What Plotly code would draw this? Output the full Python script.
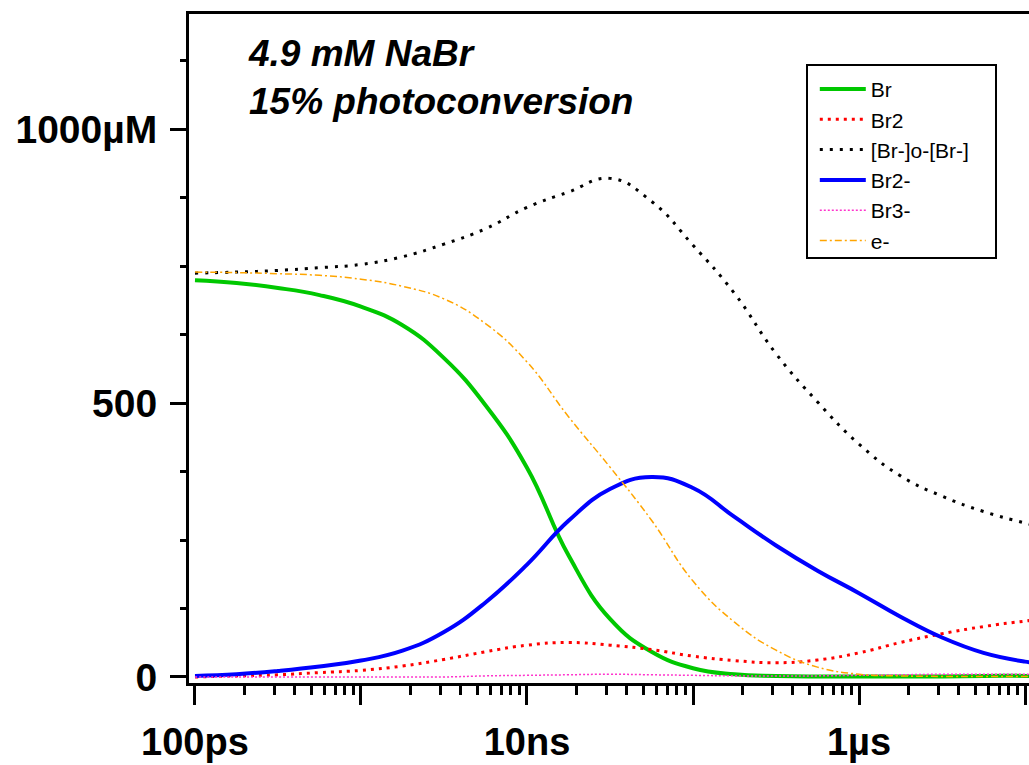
import plotly.graph_objects as go

# log10(time / s) grid
log_t = [-10.0, -9.75, -9.5, -9.25, -9.0, -8.75, -8.5, -8.25, -8.0, -7.75, -7.5,
         -7.25, -7.0, -6.75, -6.5, -6.25, -6.0, -5.75, -5.5, -5.25, -5.0, -4.75]

br = [724, 719, 710, 697, 676, 642, 582, 496, 382, 222, 106,
      46, 16, 5, 2, 1, 1, 1, 1, 2, 2, 2]
br2 = [0, 2, 4, 8, 12, 20, 32, 46, 58, 63, 58,
       50, 38, 30, 26, 31, 44, 63, 79, 92, 102, 110]
brobr = [737, 739, 742, 747, 753, 767, 790, 818, 857, 885, 910,
         868, 788, 700, 590, 502, 425, 367, 330, 302, 281, 262]
br2m = [2, 5, 11, 19, 30, 48, 82, 136, 205, 285, 343,
        365, 345, 292, 240, 194, 153, 110, 72, 44, 28, 20]
br3m = [0, 0, 0, 0, 0, 0, 0, 2, 3, 4, 5,
        4, 3, 2, 2, 2, 3, 4, 5, 5, 5, 5]
e_minus = [739, 738, 736, 733, 726, 713, 690, 645, 575, 475, 383,
           286, 175, 100, 49, 18, 5, 2, 1, 1, 1, 1]

series = [
    ("Br", br, dict(color="#00C800", width=4, dash="solid")),
    ("Br2", br2, dict(color="#FF0000", width=3, dash="3px,5px")),
    ("[Br-]o-[Br-]", brobr, dict(color="#000000", width=3, dash="3px,7px")),
    ("Br2-", br2m, dict(color="#0000FF", width=4, dash="solid")),
    ("Br3-", br3m, dict(color="#FF33CC", width=1.5, dash="2px,2px")),
    ("e-", e_minus, dict(color="#FFA500", width=1.5, dash="7px,3px,2px,3px")),
]

x_vals = [10 ** v for v in log_t]

fig = go.Figure()
for name, vals, ln in series:
    fig.add_trace(go.Scatter(x=x_vals, y=vals, name=name, mode="lines",
                             line=dict(shape="spline", smoothing=1.3, **ln)))

major_x = [1e-10, 1e-9, 1e-8, 1e-7, 1e-6, 1e-5]
major_x_text = ["100ps", "", "10ns", "", "1µs", ""]
minor_x = [k * 10.0 ** e for e in range(-10, -4) for k in range(2, 10)]

major_y = [0, 500, 1000]
major_y_text = ["0", "500", "1000µM"]
minor_y = [125, 250, 375, 625, 750, 875, 1125]

y_tick_font = dict(family="Liberation Sans, Arial, sans-serif", size=39, color="black", weight="bold")
x_tick_font = dict(family="Liberation Sans, Arial, sans-serif", size=38, color="black", weight="bold")

fig.update_layout(
    width=1029, height=765,
    margin=dict(l=189, r=0, t=14, b=82),
    paper_bgcolor="white", plot_bgcolor="white",
    showlegend=True,
    legend=dict(x=0.745, y=0.918, xanchor="left", yanchor="top",
                bgcolor="rgba(0,0,0,0)", borderwidth=0,
                font=dict(family="Liberation Sans, Arial, sans-serif", size=21, color="black"),
                itemwidth=46, tracegroupgap=0),
    annotations=[dict(
        text="4.9 mM NaBr<br>15% photoconversion",
        xref="paper", yref="paper", x=0.068, y=0.974, xanchor="left", yanchor="top",
        align="left", showarrow=False,
        font=dict(family="Liberation Sans, Arial, sans-serif", size=37, color="black",
                  weight="bold", style="italic"))],
    shapes=[dict(type="rect", xref="paper", yref="paper",
                 x0=(807 - 189) / 840, x1=(996 - 189) / 840,
                 y0=(683 - 258) / 669, y1=(683 - 65) / 669,
                 line=dict(color="black", width=2), fillcolor="rgba(0,0,0,0)")],
)

fig.update_xaxes(type="log", range=[-10.036, -4.976],
                 tickmode="array", tickvals=major_x, ticktext=major_x_text,
                 ticks="outside", ticklen=19, tickwidth=3, tickcolor="black",
                 showline=True, linewidth=3, linecolor="black", mirror=True,
                 showgrid=False, zeroline=False, tickfont=x_tick_font,
                 ticklabelstandoff=4, automargin=False,
                 minor=dict(tickmode="array", tickvals=minor_x, ticks="outside",
                            ticklen=9, tickwidth=3, tickcolor="black", showgrid=False))
fig.update_yaxes(range=[-11, 1210],
                 tickmode="array", tickvals=major_y, ticktext=major_y_text,
                 ticks="outside", ticklen=16, tickwidth=3, tickcolor="black",
                 showline=True, linewidth=3, linecolor="black",
                 showgrid=False, zeroline=False, tickfont=y_tick_font,
                 ticklabelstandoff=5, automargin=False,
                 minor=dict(tickmode="array", tickvals=minor_y, ticks="outside",
                            ticklen=6, tickwidth=3, tickcolor="black", showgrid=False))

fig.write_html("out.html", config={"displayModeBar": False},
               post_script="document.body.style.margin='0';document.body.style.overflow='hidden';")
